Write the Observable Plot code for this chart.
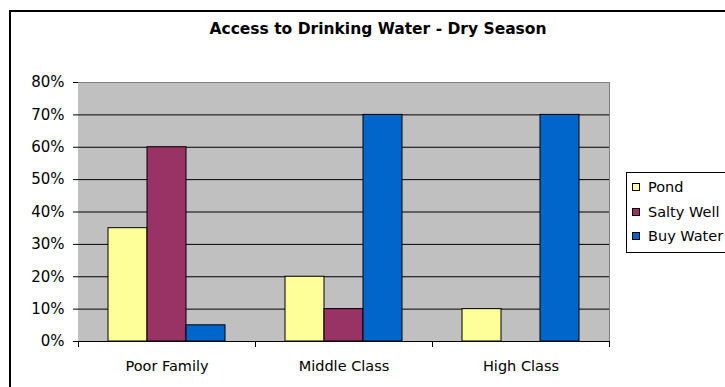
<!DOCTYPE html>
<html>
<head>
<meta charset="utf-8">
<script src="https://cdn.jsdelivr.net/npm/d3@7"></script>
<script src="https://cdn.jsdelivr.net/npm/@observablehq/plot@0.6"></script>
<style>
  html, body { margin: 0; padding: 0; background: #fff; overflow: hidden; }
  #page { position: relative; width: 725px; height: 387px; overflow: hidden; background: #fff; }
  #border { position: absolute; left: 9px; top: 10px; width: 760px; height: 420px; border: 2px solid #000; box-sizing: border-box; }
  #title { position: absolute; left: 0; top: 20px; width: 756px; text-align: center;
           font: bold 15.5px "DejaVu Sans", sans-serif; color: #000; line-height: 18px; }
  #chart { position: absolute; left: 0; top: 0; }
  #legend { position: absolute; left: 626px; top: 172px; width: 130px; border: 1px solid #000;
            background: #fff; padding: 2px 0 3px 5px; font: 14.5px "DejaVu Sans", sans-serif; color: #000; }
  .item { display: flex; align-items: center; height: 24.5px; white-space: nowrap; }
  .swatch { width: 6px; height: 6px; border: 1px solid #000; margin-right: 8px; flex: none; }
</style>
</head>
<body>
<div id="page">
  <div id="border"></div>
  <div id="title">Access to Drinking Water - Dry Season</div>
  <div id="chart"></div>
  <div id="legend"></div>
</div>
<script>
// Household groups and the share of each group using each water source
const categories = ["Poor Family", "Middle Class", "High Class"];
const seriesNames = ["Pond", "Salty Well", "Buy Water"];
const seriesColors = ["#FFFF99", "#993366", "#0066CC"];
const pond = [0.35, 0.20, 0.10];
const saltyWell = [0.60, 0.10, 0.00];
const buyWater = [0.05, 0.70, 0.70];
const yTicks = [0, 0.1, 0.2, 0.3, 0.4, 0.5, 0.6, 0.7, 0.8];

const valuesBySeries = [pond, saltyWell, buyWater];
const rows = categories.flatMap((category, i) =>
  seriesNames.map((series, s) => ({category, series, value: valuesBySeries[s][i]}))
);

const W = 725, H = 387;
const mTop = 82, mBottom = 46, mLeft = 77, mRight = 116;
const innerH = H - mTop - mBottom;

const chart = Plot.plot({
  width: W,
  height: H,
  marginTop: mTop,
  marginBottom: mBottom,
  marginLeft: mLeft,
  marginRight: mRight,
  style: {fontFamily: "DejaVu Sans, sans-serif", fontSize: "15px", color: "#000", background: "transparent"},
  fx: {domain: categories, padding: 0, label: null},
  x: {domain: seriesNames, paddingInner: 0, paddingOuter: 0.75, axis: null},
  y: {domain: [0, 0.8], label: null},
  color: {domain: seriesNames, range: seriesColors},
  marks: [
    // grey plot area (one panel per group, butted edge to edge)
    Plot.frame({fill: "#C0C0C0", stroke: "none", shapeRendering: "crispEdges", insetLeft: -0.5, insetRight: -0.5}),
    // horizontal gridlines
    Plot.ruleY(yTicks.slice(1, -1), {stroke: "#000", strokeWidth: 1}),
    // plot area border (top and right)
    Plot.ruleY(yTicks.slice(-1), {stroke: "#808080"}),
    Plot.frame({anchor: "right", stroke: "#808080", facetAnchor: "right"}),
    // bars
    Plot.barY(rows, {fx: "category", x: "series", y: "value", fill: "series", stroke: "#000", strokeWidth: 1}),
    // category axis line and boundary ticks
    Plot.ruleY([0], {stroke: "#000"}),
    Plot.frame({anchor: "left", stroke: "#000", insetTop: innerH, insetBottom: -5}),
    Plot.frame({anchor: "right", stroke: "#000", insetTop: innerH, insetBottom: -5, facetAnchor: "right"}),
    // value axis
    Plot.axisY({ticks: yTicks, tickFormat: d3.format(".0%"), tickSize: 5, tickPadding: 9,
                line: true, stroke: "#000", fontSize: 15, label: null}),
    // category labels
    Plot.axisFx({anchor: "bottom", tickSize: 0, tickPadding: 19, fontSize: 14.5, label: null})
  ]
});
document.getElementById("chart").appendChild(chart);

// legend
const legend = document.getElementById("legend");
seriesNames.forEach((name, i) => {
  const item = document.createElement("div");
  item.className = "item";
  const sw = document.createElement("span");
  sw.className = "swatch";
  sw.style.background = seriesColors[i];
  const label = document.createElement("span");
  label.textContent = name;
  item.appendChild(sw);
  item.appendChild(label);
  legend.appendChild(item);
});
</script>
</body>
</html>
